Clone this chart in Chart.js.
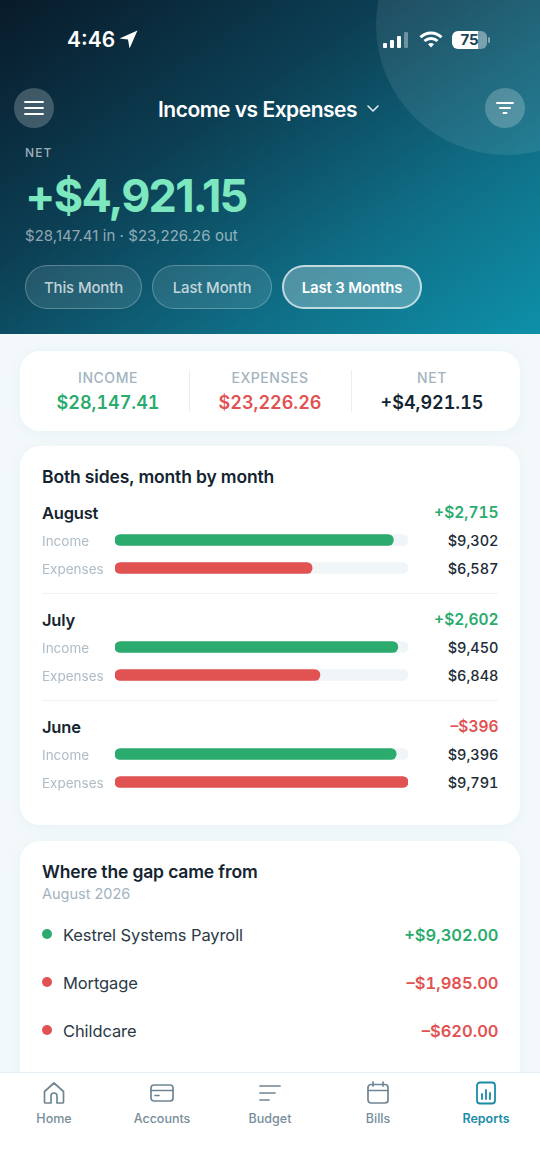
<!DOCTYPE html>
<html lang="en"><head><meta charset="utf-8"><title>Income vs Expenses</title>
<script src="https://cdn.jsdelivr.net/npm/chart.js@4"></script>
<style>
*{box-sizing:border-box;margin:0;padding:0}
html,body{width:540px;height:1173px;overflow:hidden;background:#f3f9fb;font-family:Inter,sans-serif;color:#142430}
.t{position:absolute;white-space:nowrap;line-height:1;transform:translateY(-50%)}
.r{right:41.5px;font-variant-numeric:tabular-nums}.abs{position:absolute}
#hero{position:absolute;left:0;top:0;width:540px;height:334px;overflow:hidden;background:linear-gradient(146deg,#081a29 0%,#0c3f54 38%,#0f7088 72%,#0e90a9 100%)}
#blob{position:absolute;left:376px;top:-105px;width:260px;height:260px;border-radius:50%;background:rgba(255,255,255,.085)}
.round{position:absolute;width:40px;height:40px;border-radius:50%;top:88px;display:flex;align-items:center;justify-content:center}
.pill{position:absolute;top:265px;height:44px;border-radius:22px;border:1.5px solid rgba(255,255,255,.25);background:rgba(255,255,255,.1);color:rgba(255,255,255,.72);font-size:15px;font-weight:500;display:flex;align-items:center;justify-content:center;letter-spacing:-.15px}
.pill.on{background:rgba(255,255,255,.27);border:2px solid rgba(255,255,255,.65);color:#fff;font-weight:600}
.card{position:absolute;left:20px;width:500px;background:#fff;border-radius:20px;box-shadow:0 2px 14px rgba(30,90,120,.05)}
.lab{font-size:14px;letter-spacing:.55px;color:#a3b4bf;font-weight:500;transform:translate(-50%,-50%)}
.val{font-size:18px;font-weight:600;font-variant-numeric:tabular-nums;transform:translate(-50%,-50%)}
.vr{position:absolute;left:189px;top:370px;width:1px;height:42px;background:#e9eff3}
.line{position:absolute;left:42px;width:456px;height:1px;background:#eef3f6}
canvas{position:absolute;left:42px;display:block}
.dot{position:absolute;left:42px;width:10px;height:10px;border-radius:50%}
#nav{position:absolute;left:0;top:1072px;width:540px;height:101px;background:#fff;border-top:1px solid #e4edf1}
.nl{position:absolute;top:46px;font-size:12.5px;font-weight:500;color:#788d9a;transform:translate(-50%,-50%);line-height:1;white-space:nowrap}
.ni{position:absolute;top:8px;width:24px;height:24px;transform:translateX(-50%)}
</style></head><body>
<div id="hero"><div id="blob"></div>
<div class="t" style="left:67px;top:39px;font-size:21px;font-weight:600;color:#fff">4:46</div>
<svg class="abs" style="left:119px;top:30px" width="19" height="19" viewBox="0 0 18 18"><path d="M17.500.5.500 8l8 1 1.500 8.500z" fill="#fff"/></svg>
<svg class="abs" style="left:383px;top:32px" width="26" height="17" viewBox="0 0 26 17"><g fill="#fff"><rect x="0" y="11" width="4" height="5" rx="1"/><rect x="7" y="8" width="4" height="8" rx="1"/><rect x="14" y="4" width="4" height="12" rx="1"/></g><rect x="21" y="0" width="4" height="16" rx="1" fill="rgba(255,255,255,.35)"/></svg>
<svg class="abs" style="left:419px;top:30px" width="24" height="19" viewBox="0 0 24 19" fill="none" stroke="#fff" stroke-width="3"><path d="M1.500 7.200a15 15 0 0 1 21 0"/><path d="M5.500 11a9.500 9.500 0 0 1 13 0"/><path d="M12 17.500 9 14.300a4.400 4.400 0 0 1 6 0z" fill="#fff" stroke="none"/></svg>
<div class="abs" style="left:452px;top:31px;width:35px;height:18px;border-radius:6px;background:linear-gradient(90deg,#fff 0 73%,rgba(255,255,255,.4) 73%);color:#1b4558;font-size:15px;font-weight:700;text-align:center;line-height:18px">75</div>
<div class="abs" style="left:488px;top:37px;width:2px;height:6px;border-radius:1px;background:rgba(255,255,255,.45)"></div>
<div class="round" style="left:14px;background:rgba(255,255,255,.22)"><svg width="20" height="14" viewBox="0 0 20 14" stroke="#fff" stroke-width="1.800" stroke-linecap="round"><path d="M1 1h18M1 7h18M1 13h18"/></svg></div>
<div class="round" style="left:485px;background:rgba(255,255,255,.22)"><svg width="18" height="12" viewBox="0 0 18 12" stroke="#fff" stroke-width="2" stroke-linecap="round"><path d="M1 1h16M4 6h10M7.500 11h3"/></svg></div>
<div class="t" style="left:158px;top:109px;font-size:21px;font-weight:600;color:#fff;letter-spacing:-.5px">Income vs Expenses</div>
<svg class="abs" style="left:366px;top:104px" width="14" height="9" viewBox="0 0 14 9" fill="none" stroke="#dfeaf0" stroke-width="1.600" stroke-linecap="round" stroke-linejoin="round"><path d="M2 2l5 5 5-5"/></svg>
<div class="t" style="left:25px;top:153px;font-size:12px;font-weight:500;letter-spacing:1.1px;color:rgba(255,255,255,.62)">NET</div>
<div class="t" style="left:25px;top:195px;font-size:45px;font-weight:700;letter-spacing:-1.8px;color:#7de8bf">+$4,921.15</div>
<div class="t" style="left:25px;top:235px;font-size:15px;color:rgba(255,255,255,.55);letter-spacing:.05px">$28,147.41 in · $23,226.26 out</div>
<div class="pill" style="left:25px;width:117px">This Month</div>
<div class="pill" style="left:152px;width:120px">Last Month</div>
<div class="pill on" style="left:282px;width:140px">Last 3 Months</div>
</div>

<div class="card" style="top:351px;height:80px"></div>
<div class="vr"></div><div class="vr" style="left:351px"></div>
<div class="t lab" style="left:108px;top:378px">INCOME</div>
<div class="t val" style="left:108px;top:403px;color:#2bab6e">$28,147.41</div>
<div class="t lab" style="left:270px;top:378px">EXPENSES</div>
<div class="t val" style="left:270px;top:403px;color:#e15252">$23,226.26</div>
<div class="t lab" style="left:432px;top:378px">NET</div>
<div class="t val" style="left:432px;top:403px;color:#142430">+$4,921.15</div>

<div class="card" style="top:446px;height:379px"></div>
<div class="t" style="left:42px;top:477px;font-size:17.5px;font-weight:600;letter-spacing:-.15px">Both sides, month by month</div>
<div id="months"></div>

<div class="card" style="top:841px;height:300px"></div>
<div class="t" style="left:42px;top:872px;font-size:17.5px;font-weight:600;letter-spacing:-.15px">Where the gap came from</div>
<div class="t" style="left:42px;top:894px;font-size:14.5px;color:#a3b4bf">August 2026</div>
<div id="gap"></div>

<div id="nav">
<svg class="ni" style="left:54px" viewBox="0 0 24 24" fill="none" stroke="#6f8594" stroke-width="1.700" stroke-linejoin="round"><path d="M2.500 10.500 12 2l9.500 8.500V21a1 1 0 0 1-1 1H15v-7a3 3 0 0 0-6 0v7H3.500a1 1 0 0 1-1-1z"/></svg>
<svg class="ni" style="left:162px" viewBox="0 0 24 24" fill="none" stroke="#6f8594" stroke-width="1.700" stroke-linecap="round"><rect x="1" y="4" width="22" height="16" rx="3"/><path d="M1 9.500h22M5 14.500h4"/></svg>
<svg class="ni" style="left:270px" viewBox="0 0 24 24" fill="none" stroke="#6f8594" stroke-width="1.700" stroke-linecap="round"><path d="M2 5h20M2 12h15M2 19h9"/></svg>
<svg class="ni" style="left:378px" viewBox="0 0 24 24" fill="none" stroke="#6f8594" stroke-width="1.700" stroke-linecap="round"><rect x="2" y="3.500" width="20" height="18.500" rx="3"/><path d="M2 9.500h20M7 1v4M17 1v4"/></svg>
<svg class="ni" style="left:486px" viewBox="0 0 24 24" fill="none" stroke="#1a8ca6" stroke-width="1.800" stroke-linecap="round"><rect x="3" y="1.500" width="18" height="21" rx="3"/><path d="M8 13v5M12 9v9M16 12v6"/></svg>
<div class="nl" style="left:54px">Home</div><div class="nl" style="left:162px">Accounts</div><div class="nl" style="left:270px">Budget</div><div class="nl" style="left:378px">Bills</div>
<div class="nl" style="left:486px;color:#1a8ca6;font-weight:600">Reports</div>
</div>

<script>
const months = ["August", "July", "June"];
const netLabels = ["+$2,715", "+$2,602", "–$396"];
const sides = ["Income", "Expenses"];
const incomeValues = [9302, 9450, 9396];
const expenseValues = [6587, 6848, 9791];
const scaleMax = 9791;
const gapLabels = ["Kestrel Systems Payroll", "Mortgage", "Childcare"];
const gapAmounts = ["+$9,302.00", "–$1,985.00", "–$620.00"];

const GREEN = "#2bab6e", RED = "#e15252", TRACK = "#f0f5f8";
const monthTops = [513, 620, 727];
const gapTops = [935, 983, 1031];
const money = v => "$" + v.toLocaleString("en-US");

Chart.defaults.font.family = "Inter";
const host = document.getElementById("months");
function text(parent, cls, style, str) {
  const d = document.createElement("div");
  d.className = "t " + cls; d.style.cssText = style; d.textContent = str;
  parent.appendChild(d); return d;
}
months.forEach((m, i) => {
  const top = monthTops[i];
  text(host, "", `left:42px;top:${top}px;font-size:16.5px;font-weight:600;letter-spacing:-.2px`, m);
  text(host, "r", `top:${top}px;font-size:15.5px;font-weight:600;color:${netLabels[i].startsWith("+") ? GREEN : RED}`, netLabels[i]);
  text(host, "r", `top:${top + 28}px;font-size:14.5px;font-weight:500;color:#1d2c37`, money(incomeValues[i]));
  text(host, "r", `top:${top + 56}px;font-size:14.5px;font-weight:500;color:#1d2c37`, money(expenseValues[i]));
  if (i < 2) {
    const l = document.createElement("div"); l.className = "line"; l.style.top = (top + 80) + "px"; host.appendChild(l);
  }
  const c = document.createElement("canvas");
  c.width = 366; c.height = 56; c.style.top = (top + 13) + "px";
  c.style.width = "366px"; c.style.height = "56px";
  host.appendChild(c);
  new Chart(c, {
    type: "bar",
    data: {
      labels: sides,
      datasets: [
        { label: m, data: [incomeValues[i], expenseValues[i]], backgroundColor: [GREEN, RED], grouped: false, barThickness: 11, borderRadius: 6, borderSkipped: false },
        { label: "Track", data: [scaleMax, scaleMax], backgroundColor: TRACK, grouped: false, barThickness: 11, borderRadius: 6, borderSkipped: false }
      ]
    },
    options: {
      indexAxis: "y", responsive: false, animation: false, events: [],
      layout: { padding: 0 },
      plugins: { legend: { display: false }, tooltip: { enabled: false } },
      scales: {
        x: { display: false, min: 0, max: scaleMax },
        y: {
          grid: { display: false, drawTicks: false }, border: { display: false },
          afterFit: s => { s.width = 73; s.paddingTop = 0; s.paddingBottom = 0; },
          ticks: { crossAlign: "far", padding: 0, labelOffset: 1.5, color: "#aebcc6", font: { size: 13.5 } }
        }
      }
    }
  });
});
const gap = document.getElementById("gap");
gapLabels.forEach((g, i) => {
  const col = gapAmounts[i].startsWith("+") ? GREEN : RED;
  const d = document.createElement("div"); d.className = "dot";
  d.style.top = (gapTops[i] - 6) + "px"; d.style.background = col; gap.appendChild(d);
  text(gap, "", `left:63px;top:${gapTops[i]}px;font-size:16.5px;color:#2b3a45;letter-spacing:-.1px`, g);
  text(gap, "r", `top:${gapTops[i]}px;font-size:16.5px;font-weight:600;color:${col}`, gapAmounts[i]);
});
</script>
</body></html>
